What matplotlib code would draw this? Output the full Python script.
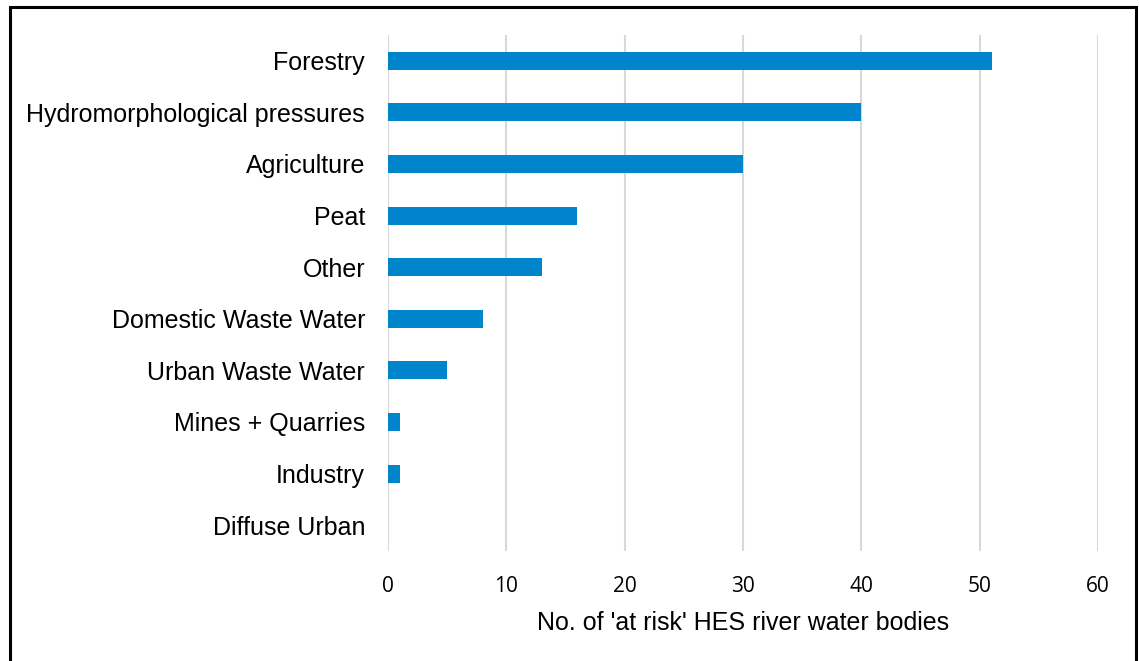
import matplotlib
matplotlib.use("Agg")
import matplotlib.pyplot as plt
from matplotlib.patches import Rectangle

# Data
categories = ["Forestry", "Hydromorphological pressures", "Agriculture", "Peat",
              "Other", "Domestic Waste Water", "Urban Waste Water",
              "Mines + Quarries", "Industry", "Diffuse Urban"]
counts = [51, 40, 30, 16, 13, 8, 5, 1, 1, 0]
x_ticks = [0, 10, 20, 30, 40, 50, 60]
x_label = "No. of 'at risk' HES river water bodies"

W, H = 1139, 661
fig = plt.figure(figsize=(W / 100, H / 100), dpi=100)

# Axes placed in pixel terms: x 388..1098, y 35..551
left, right, top, bottom = 388, 1098, 35, 551
ax = fig.add_axes([left / W, 1 - bottom / H, (right - left) / W, (bottom - top) / H])

pos = list(range(len(categories)))
ax.barh(pos, counts, height=0.35, color="#0084CC", zorder=3)
ax.set_ylim(len(categories) - 0.5, -0.5)
ax.set_xlim(0, 60)

ax.set_yticks(pos)
ax.set_yticklabels(categories, fontfamily="Liberation Sans", fontsize=18)
ax.set_xticks(x_ticks)
ax.set_xticklabels([str(t) for t in x_ticks], fontfamily="Open Sans", fontsize=15)
ax.tick_params(axis="both", length=0)
ax.tick_params(axis="y", pad=16.5)
ax.tick_params(axis="x", pad=18)

ax.grid(axis="x", color="#d9d9d9", linewidth=1.5, zorder=0)
for s in ax.spines.values():
    s.set_visible(False)

ax.set_xlabel(x_label, fontfamily="Liberation Sans", fontsize=18, labelpad=10)

# Outer black border (bottom edge runs off the image)
fig.patches.append(Rectangle((9.5 / W, -0.05), (1136 - 9.5) / W, 1.05 - 7.5 / H,
                             transform=fig.transFigure, fill=False,
                             edgecolor="black", linewidth=2.2))

fig.savefig("out.png", dpi=100)
